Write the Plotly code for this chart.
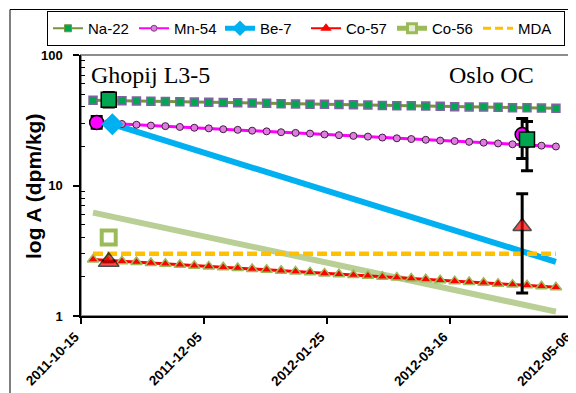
import plotly.graph_objects as go

# ---------------- data ----------------
dates = ["2011-10-20", "2011-10-26", "2011-11-01", "2011-11-07", "2011-11-13", "2011-11-19",
         "2011-11-25", "2011-12-01", "2011-12-07", "2011-12-13", "2011-12-19", "2011-12-25",
         "2011-12-31", "2012-01-06", "2012-01-12", "2012-01-18", "2012-01-24", "2012-01-30",
         "2012-02-05", "2012-02-11", "2012-02-17", "2012-02-23", "2012-02-29", "2012-03-06",
         "2012-03-12", "2012-03-18", "2012-03-24", "2012-03-30", "2012-04-05", "2012-04-11",
         "2012-04-17", "2012-04-23", "2012-04-29"]
na22 = [45.0, 44.8, 44.6, 44.4, 44.2, 44.0, 43.8, 43.6, 43.4, 43.2, 43.0, 42.8, 42.6, 42.4,
        42.2, 42.0, 41.9, 41.7, 41.5, 41.3, 41.1, 40.9, 40.8, 40.6, 40.4, 40.2, 40.0, 39.9,
        39.7, 39.5, 39.4, 39.2, 39.0]
mn54 = [30.4, 30.0, 29.6, 29.2, 28.8, 28.5, 28.1, 27.7, 27.4, 27.0, 26.7, 26.3, 26.0, 25.6,
        25.3, 25.0, 24.6, 24.3, 24.0, 23.7, 23.3, 23.0, 22.7, 22.4, 22.1, 21.9, 21.6, 21.3,
        21.0, 20.7, 20.5, 20.2, 19.9]
co57 = [2.71, 2.67, 2.63, 2.59, 2.55, 2.51, 2.47, 2.43, 2.40, 2.36, 2.33, 2.29, 2.26, 2.22,
        2.19, 2.16, 2.12, 2.09, 2.06, 2.03, 2.00, 1.97, 1.94, 1.91, 1.88, 1.85, 1.82, 1.80,
        1.77, 1.74, 1.72, 1.69, 1.66]

be7_dates = ["2011-10-28", "2012-04-29"]
be7_vals = [29.5, 2.6]
co56_dates = ["2011-10-20", "2012-04-29"]
co56_vals = [6.2, 1.08]
mda_dates = ["2011-10-20", "2012-04-29"]
mda_vals = [3.0, 3.0]

# measured values (with uncertainties)
mn_meas_dates = ["2011-10-21T12:00", "2012-04-15"]
mn_meas = [30.4, 24.6]
mn_err_plus = [3.4, 8.0]
mn_err_minus = [3.0, 8.5]

na_meas_dates = ["2011-10-26T12:00", "2012-04-17"]
na_meas = [45.5, 22.5]
na_err_plus = [6.0, 8.4]
na_err_minus = [5.5, 9.5]

co57_meas_dates = ["2011-10-26T12:00", "2012-04-15"]
co57_meas = [2.6, 4.85]
co57_err_plus = [0.0, 3.8]
co57_err_minus = [0.0, 3.35]

co56_meas_dates = ["2011-10-26T12:00"]
co56_meas = [4.0]

be7_meas_dates = ["2011-10-28"]
be7_meas = [29.5]

x_ticks = ["2011-10-15", "2011-12-05", "2012-01-25", "2012-03-16", "2012-05-06"]
y_ticks = [1, 10, 100]
y_minor = [2, 3, 4, 5, 6, 7, 8, 9, 20, 30, 40, 50, 60, 70, 80, 90]

# ---------------- styles ----------------
C_NA_LINE = "#77933C"
C_NA_FILL = "#00A650"
C_NA_EDGE = "#8064A2"
C_MN_LINE = "#FF00FF"
C_MN_FILL = "#E07CE0"
C_BE = "#00B0F0"
C_CO57 = "#FF0000"
C_CO57_EDGE = "#9BBB59"
C_CO56_LINE = "#B9CF95"
C_CO56_EDGE = "#9BBB59"
C_MDA = "#FFC000"
SANS = "Liberation Sans, Arial, sans-serif"
SERIF = "Liberation Serif, Times New Roman, serif"

fig = go.Figure()

# model / decay lines
fig.add_trace(go.Scatter(x=co56_dates, y=co56_vals, mode="lines", showlegend=False,
                         line=dict(color=C_CO56_LINE, width=6)))
fig.add_trace(go.Scatter(x=be7_dates, y=be7_vals, mode="lines", showlegend=False,
                         line=dict(color=C_BE, width=6)))
fig.add_trace(go.Scatter(x=mda_dates, y=mda_vals, mode="lines", showlegend=False,
                         line=dict(color=C_MDA, width=4.5, dash="10px,4px")))
fig.add_trace(go.Scatter(x=dates, y=na22, mode="lines+markers", showlegend=False,
                         line=dict(color=C_NA_LINE, width=3),
                         marker=dict(symbol="square", size=8, color=C_NA_FILL,
                                     line=dict(color=C_NA_EDGE, width=1.5))))
fig.add_trace(go.Scatter(x=dates, y=mn54, mode="lines+markers", showlegend=False,
                         line=dict(color=C_MN_LINE, width=3),
                         marker=dict(symbol="circle", size=7, color=C_MN_FILL,
                                     line=dict(color="#402040", width=1))))
fig.add_trace(go.Scatter(x=dates, y=co57, mode="lines+markers", showlegend=False,
                         line=dict(color=C_CO57, width=3),
                         marker=dict(symbol="triangle-up", size=10, color=C_CO57,
                                     line=dict(color=C_CO57_EDGE, width=1.5))))

# measured points
err_style = dict(type="data", symmetric=False, color="black", thickness=3, width=6)
fig.add_trace(go.Scatter(x=co56_meas_dates, y=co56_meas, mode="markers", showlegend=False,
                         marker=dict(symbol="square", size=14, color="white",
                                     line=dict(color=C_CO56_EDGE, width=4))))
fig.add_trace(go.Scatter(x=co57_meas_dates, y=co57_meas, mode="markers", showlegend=False,
                         error_y=dict(array=co57_err_plus, arrayminus=co57_err_minus, **err_style),
                         marker=dict(symbol="triangle-up", size=[18, 16], color=C_CO57,
                                     line=dict(color="black", width=1.5))))
fig.add_trace(go.Scatter(x=mn_meas_dates, y=mn_meas, mode="markers", showlegend=False,
                         error_y=dict(array=mn_err_plus, arrayminus=mn_err_minus, **err_style),
                         marker=dict(symbol="circle", size=14, color=C_MN_LINE,
                                     line=dict(color="black", width=1.5))))
fig.add_trace(go.Scatter(x=na_meas_dates, y=na_meas, mode="markers", showlegend=False,
                         error_y=dict(array=na_err_plus, arrayminus=na_err_minus, **err_style),
                         marker=dict(symbol="square", size=15, color=C_NA_FILL,
                                     line=dict(color="black", width=1.5))))
fig.add_trace(go.Scatter(x=be7_meas_dates, y=be7_meas, mode="markers", showlegend=False,
                         marker=dict(symbol="diamond", size=17, color=C_BE)))

# legend-only entries
fig.add_trace(go.Scatter(x=[None], y=[None], mode="lines+markers", name="Na-22",
                         line=dict(color=C_NA_LINE, width=2),
                         marker=dict(symbol="square", size=7, color=C_NA_FILL,
                                     line=dict(color=C_NA_LINE, width=1))))
fig.add_trace(go.Scatter(x=[None], y=[None], mode="lines+markers", name="Mn-54",
                         line=dict(color=C_MN_LINE, width=2),
                         marker=dict(symbol="circle", size=6, color=C_MN_FILL,
                                     line=dict(color="#804080", width=1))))
fig.add_trace(go.Scatter(x=[None], y=[None], mode="lines+markers", name="Be-7",
                         line=dict(color=C_BE, width=5),
                         marker=dict(symbol="diamond", size=12, color=C_BE)))
fig.add_trace(go.Scatter(x=[None], y=[None], mode="lines+markers", name="Co-57",
                         line=dict(color=C_CO57, width=2),
                         marker=dict(symbol="triangle-up", size=10, color=C_CO57)))
fig.add_trace(go.Scatter(x=[None], y=[None], mode="lines+markers", name="Co-56",
                         line=dict(color=C_CO56_EDGE, width=5),
                         marker=dict(symbol="square", size=9, color="#E6EED8",
                                     line=dict(color=C_CO56_EDGE, width=3))))
fig.add_trace(go.Scatter(x=[None], y=[None], mode="lines", name="MDA",
                         line=dict(color=C_MDA, width=3, dash="8px,4px")))

# ---------------- layout ----------------
OFF = 8  # page body margin offset of the plot div
W, H = 576 - OFF, 393 - OFF
L, R, T, B = 81 - OFF, 3, 55 - OFF, 77
pw, ph = W - L - R, H - T - B

def px_x(p):
    """screen pixel x -> paper x"""
    return (p - OFF - L) / pw

def px_y(p):
    """screen pixel y -> paper y"""
    return (OFF + H - B - p) / ph

fig.update_layout(
    width=W, height=H,
    margin=dict(l=L, r=R, t=T, b=B, autoexpand=False),
    paper_bgcolor="white", plot_bgcolor="white",
    font=dict(family=SANS, color="black"),
    showlegend=True,
    legend=dict(orientation="h", x=px_x(47), y=px_y(11), xanchor="left", yanchor="top",
                bordercolor="black", borderwidth=1, bgcolor="white",
                font=dict(family=SANS, size=15, color="black"),
                entrywidth=41, entrywidthmode="pixels", itemsizing="trace",
                traceorder="normal"),
    xaxis=dict(type="date", range=["2011-10-15", "2012-05-06 02:00"],
               tickmode="array", tickvals=x_ticks, ticktext=x_ticks,
               tickangle=-45, tickfont=dict(family=SANS, size=13.5, color="black", weight="bold"),
               ticklabeloverflow="allow", ticklabelshift=-6,
               ticks="outside", ticklen=6, tickwidth=1.5, tickcolor="black",
               showline=True, linecolor="black", linewidth=1.5,
               showgrid=False, zeroline=False),
    yaxis=dict(type="log", range=[0, 2],
               tickmode="array", tickvals=y_ticks, ticktext=["1", "10", "100"],
               tickfont=dict(family=SANS, size=13, color="black", weight="bold"),
               ticks="outside", ticklen=6, tickwidth=1.5, tickcolor="black",
               ticklabelstandoff=8,
               minor=dict(tickvals=y_minor, ticks="inside", ticklen=4, tickwidth=1,
                          tickcolor="black", showgrid=False),
               showline=True, linecolor="black", linewidth=1.5,
               showgrid=False, zeroline=False),
    shapes=[
        dict(type="rect", xref="paper", yref="paper", x0=0, x1=1, y0=0, y1=1,
             line=dict(color="#8C8C8C", width=2), layer="below"),
        dict(type="rect", xref="paper", yref="paper",
             x0=px_x(10), x1=px_x(580), y0=px_y(400), y1=px_y(9.5),
             line=dict(color="black", width=1), layer="below"),
    ],
    annotations=[
        dict(text="log A (dpm/kg)", xref="paper", yref="paper", x=px_x(33), y=px_y(187),
             textangle=-90, showarrow=False, xanchor="center", yanchor="middle",
             font=dict(family=SANS, size=21, color="black", weight="bold")),
        dict(text="Ghopij L3-5", xref="paper", yref="paper", x=px_x(89), y=px_y(75),
             showarrow=False, xanchor="left", yanchor="middle",
             font=dict(family=SERIF, size=24, color="black")),
        dict(text="Oslo OC", xref="paper", yref="paper", x=px_x(536), y=px_y(75),
             showarrow=False, xanchor="right", yanchor="middle",
             font=dict(family=SERIF, size=24, color="black")),
    ],
)

fig.write_html("out.html")
